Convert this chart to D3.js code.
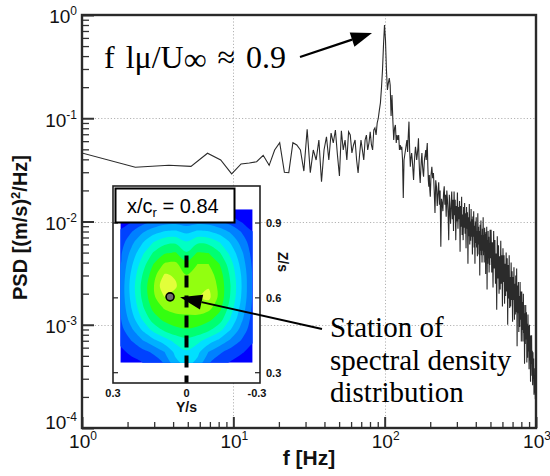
<!DOCTYPE html>
<html>
<head>
<meta charset="utf-8">
<script src="https://cdn.jsdelivr.net/npm/d3@7"></script>
<style>
  html, body { margin: 0; padding: 0; background: #fff; }
  svg { display: block; }
  .sans { font-family: "Liberation Sans", Arial, Helvetica, sans-serif; }
  .serif { font-family: "Liberation Serif", "Times New Roman", Times, serif; }
</style>
</head>
<body>
<script>
// ---- Power spectral density of the velocity signal ----
// Frequency bins [Hz] and PSD [(m/s)^2/Hz]
const freqLow = [0.75, 2.25, 3.75, 5.25, 6.75, 8.25, 9.75, 11.25, 12.75, 14.25, 15.75, 17.25, 18.75, 20.25,
  21.75, 23.25, 24.75, 26.25, 27.75, 29.25, 30.75, 32.25, 33.75, 35.25, 36.75, 38.25, 39.75, 41.25, 42.75,
  44.25, 45.75, 47.25, 48.75, 50.25, 51.75, 53.25, 54.75, 56.25, 57.75, 59.25, 60.75, 62.25, 63.75, 65.25,
  66.75, 68.25, 69.75, 71.25, 72.75, 74.25, 75.75, 77.25, 78.75, 80.25, 81.75, 83.25, 84.75, 86.25, 87.75,
  89.25, 90.75, 92.25, 93.75, 95.25, 96.75, 98.25, 99.75];
const psdLow = [0.0515, 0.0335, 0.035, 0.0342, 0.0458, 0.0394, 0.0289, 0.0361, 0.0369, 0.0379, 0.0438, 0.035,
  0.0493, 0.058, 0.03, 0.0297, 0.058, 0.0551, 0.0493, 0.0308, 0.0782, 0.0297, 0.0493, 0.0394, 0.0616, 0.0243,
  0.0493, 0.0662, 0.0394, 0.0719, 0.0576, 0.0769, 0.0441, 0.0276, 0.0757, 0.0493, 0.0616, 0.0394, 0.0741,
  0.0688, 0.0461, 0.0551, 0.0616, 0.0394, 0.0295, 0.0441, 0.0616, 0.0493, 0.0394, 0.0616, 0.0688, 0.0493,
  0.0576, 0.0741, 0.0551, 0.0493, 0.0769, 0.0805, 0.0688, 0.09, 0.1, 0.12, 0.141, 0.196, 0.293, 0.512, 0.8];

const freqMid = [101.25, 102.75, 104.25, 105.75, 107.25, 108.75, 110.25, 111.75, 113.25, 114.75, 116.25, 117.75,
  119.25, 120.75, 122.25, 123.75, 125.25, 126.75, 128.25, 129.75, 131.25, 132.75, 134.25, 135.75, 137.25,
  138.75, 140.25, 141.75, 143.25, 144.75, 146.25, 147.75, 149.25, 150.75, 152.25, 153.75, 155.25, 156.75,
  158.25, 159.75, 161.25, 162.75, 164.25, 165.75, 167.25, 168.75, 170.25, 171.75, 173.25, 174.75, 176.25,
  177.75, 179.25, 180.75, 182.25, 183.75, 185.25, 186.75, 188.25, 189.75, 191.25, 192.75, 194.25, 195.75,
  197.25, 198.75, 200.25];
const psdMid = [0.573, 0.293, 0.188, 0.219, 0.245, 0.21, 0.105, 0.168, 0.0962, 0.0616, 0.0805, 0.0861, 0.0576,
  0.0688, 0.0616, 0.0688, 0.0493, 0.0551, 0.0493, 0.053, 0.0394, 0.0169, 0.0394, 0.0441, 0.0493, 0.0551,
  0.0616, 0.0471, 0.0688, 0.0927, 0.0493, 0.0339, 0.0412, 0.0461, 0.0394, 0.0315, 0.0252, 0.0353, 0.0441,
  0.053, 0.0471, 0.0394, 0.0441, 0.0515, 0.064, 0.0394, 0.0282, 0.0236, 0.0315, 0.0394, 0.0461, 0.0353,
  0.0301, 0.0272, 0.0353, 0.0412, 0.0441, 0.0493, 0.0394, 0.0493, 0.0576, 0.0353, 0.0252, 0.0217, 0.0282,
  0.0202, 0.0174];

const freqHighA = [202.5, 205, 207.5, 210, 212.5, 215, 217.5, 220, 222.5, 225, 227.5, 230, 232.5, 235, 237.5,
  240, 242.5, 245, 247.5, 250, 252.5, 255, 257.5, 260, 262.5, 265, 267.5, 270, 272.5, 275, 277.5, 280, 282.5,
  285, 287.5, 290, 292.5, 295, 297.5, 300, 302.5, 305, 307.5, 310, 312.5, 315, 317.5, 320, 322.5, 325, 327.5,
  330, 332.5, 335, 337.5, 340, 342.5, 345, 347.5, 350, 352.5, 355, 357.5, 360, 362.5, 365, 367.5, 370, 372.5,
  375, 377.5, 380, 382.5, 385, 387.5, 390, 392.5, 395, 397.5, 400, 402.5, 405, 407.5, 410, 412.5, 415, 417.5,
  420, 422.5, 425, 427.5, 430, 432.5, 435, 437.5, 440, 442.5, 445, 447.5, 450, 452.5, 455, 457.5, 460, 462.5,
  465, 467.5, 470, 472.5, 475, 477.5, 480, 482.5, 485, 487.5, 490, 492.5, 495, 497.5, 500];
const psdHighA = [0.0282, 0.0339, 0.0263, 0.0295, 0.02, 0.0121, 0.0251, 0.0217, 0.0141, 0.0188, 0.024, 0.0145,
  0.02, 0.0057, 0.0166, 0.015, 0.0126, 0.0189, 0.0219, 0.0145, 0.0182, 0.0111, 0.02, 0.0162, 0.012, 0.0066,
  0.0182, 0.0129, 0.0095, 0.0151,
  0.0195, 0.0105, 0.0162, 0.0081, 0.0195, 0.0115, 0.0162, 0.0066, 0.0141, 0.01,
  0.0191, 0.0085, 0.0138, 0.0105, 0.0158, 0.0051, 0.0141, 0.0089, 0.0174, 0.0074,
  0.0117, 0.0066, 0.0138, 0.0087, 0.0151, 0.0076, 0.012, 0.0055, 0.0138, 0.0085,
  0.0123, 0.0039, 0.011, 0.0072, 0.0148, 0.006, 0.01, 0.0065, 0.0132, 0.0071,
  0.0105, 0.0048, 0.0112, 0.0071, 0.0126, 0.0056, 0.0091, 0.0039, 0.01, 0.0062,
  0.011, 0.0056, 0.0081, 0.0046, 0.012, 0.006, 0.0089, 0.0048, 0.0081, 0.003,
  0.0093, 0.0052, 0.0102, 0.0047, 0.0074, 0.004, 0.0085, 0.0052, 0.011, 0.0047,
  0.0074, 0.004, 0.0087, 0.0051, 0.0076, 0.0031, 0.0079, 0.0046, 0.0089, 0.0022,
  0.0066, 0.0039, 0.0081, 0.0044, 0.0071, 0.0032, 0.0062, 0.0038, 0.0083, 0.0044];

const freqHighB = [505, 510, 515, 520, 525, 530, 535, 540, 545, 550, 555, 560, 565, 570, 575, 580, 585, 590, 595,
  600, 605, 610, 615, 620, 625, 630, 635, 640, 645, 650, 655, 660, 665, 670, 675, 680, 685, 690, 695, 700,
  705, 710, 715, 720, 725, 730, 735, 740, 745, 750, 755, 760, 765, 770, 775, 780, 785, 790, 795, 800, 805,
  810, 815, 820, 825, 830, 835, 840, 845, 850, 855, 860, 865, 870, 875, 880, 885, 890, 895, 900, 905, 910,
  915, 920, 925, 930, 935, 940, 945, 950, 955, 960, 965, 970, 975, 980, 985, 990, 995, 1000];
const psdHighB = [0.0083, 0.0032, 0.0063, 0.0023, 0.0081, 0.0035, 0.0066, 0.0025, 0.0049, 0.0014,
  0.0072, 0.0028, 0.0059, 0.002, 0.0046, 0.0022, 0.0065, 0.0025, 0.0047, 0.0015,
  0.0055, 0.0026, 0.0047, 0.0016, 0.0039, 0.0019, 0.005, 0.0021, 0.0044, 0.001,
  0.0038, 0.0018, 0.0047, 0.00145, 0.0029, 0.0015, 0.004, 0.00174, 0.0033, 0.00107,
  0.0029, 0.00174, 0.0036, 0.00112, 0.0025, 0.00126, 0.003, 0.00132, 0.0035, 0.00062,
  0.0024, 0.00129, 0.0026, 0.00085, 0.0019, 0.00095, 0.0026, 0.00112, 0.0021, 0.00069,
  0.0021, 0.00089, 0.00166, 0.00069, 0.002, 0.00083, 0.00155, 0.00042, 0.00129, 0.00065,
  0.00155, 0.00072, 0.00132, 0.00043, 0.00102, 0.00048, 0.00126, 0.00055, 0.00098, 0.00037,
  0.001, 0.00045, 0.00078, 0.00028, 0.00079, 0.00042, 0.00079, 0.00032, 0.00056, 0.00026,
  0.00054, 0.0003, 0.00047, 0.00021, 0.00038, 0.00022, 0.00032, 0.00019, 0.00025, 0.00018];

// Axis decades
const xDecades = [0, 1, 2, 3];          // 10^0 .. 10^3 Hz
const yDecades = [0, -1, -2, -3, -4];   // 10^0 .. 10^-4

// ---- Inset: contour map of the spectral energy in the cross-flow plane ----
const gridY = [0.27, 0.225, 0.18, 0.135, 0.09, 0.045, 0, -0.045, -0.09, -0.135, -0.18, -0.225, -0.27];
const gridZ = [0.955, 0.911, 0.867, 0.823, 0.779, 0.735, 0.691, 0.647, 0.603, 0.56, 0.516, 0.472, 0.428, 0.384, 0.34];
const levelField = [
  [0, 0, 0, 0.2, 0.5, 0.6, 0.5, 0.6, 0.5, 0.2, 0, 0, 0],
  [0, 0.3, 0.9, 1.4, 1.8, 1.9, 1.7, 1.9, 1.8, 1.4, 0.9, 0.3, 0],
  [0.6, 1.4, 2.3, 3.0, 3.5, 3.6, 3.2, 3.6, 3.5, 3.0, 2.3, 1.4, 0.5],
  [1.0, 2.2, 3.4, 4.5, 5.2, 5.3, 4.6, 5.3, 5.2, 4.5, 3.4, 2.1, 0.9],
  [1.3, 2.8, 4.3, 5.6, 6.4, 6.6, 5.6, 6.6, 6.5, 5.6, 4.2, 2.7, 1.1],
  [1.5, 3.3, 5.0, 6.5, 7.6, 7.7, 6.8, 7.5, 7.5, 6.5, 4.9, 3.1, 1.3],
  [1.6, 3.7, 5.5, 7.1, 8.6, 8.4, 7.5, 7.8, 8.0, 7.0, 5.3, 3.4, 1.4],
  [1.7, 3.9, 5.8, 7.4, 9.3, 8.6, 7.8, 8.1, 8.4, 7.2, 5.5, 3.5, 1.4],
  [1.7, 3.8, 5.7, 7.3, 8.5, 8.2, 8.0, 8.4, 8.8, 7.2, 5.4, 3.4, 1.4],
  [1.6, 3.5, 5.3, 6.8, 7.6, 7.8, 7.8, 8.0, 7.8, 6.8, 5.0, 3.1, 1.3],
  [1.4, 3.0, 4.6, 6.0, 6.8, 7.2, 7.3, 7.2, 6.8, 6.0, 4.4, 2.7, 1.1],
  [1.1, 2.3, 3.6, 4.8, 5.7, 6.2, 6.4, 6.2, 5.7, 4.8, 3.5, 2.1, 0.9],
  [0.7, 1.5, 2.4, 3.2, 4.0, 4.8, 5.2, 4.8, 4.0, 3.2, 2.3, 1.4, 0.6],
  [0.3, 0.7, 1.2, 1.7, 2.5, 3.8, 4.4, 3.8, 2.5, 1.7, 1.1, 0.6, 0.2],
  [0, 0.2, 0.5, 0.9, 1.6, 3.2, 3.9, 3.2, 1.6, 0.9, 0.4, 0.1, 0]
];
const levelThresholds = [0.5, 1.5, 2.5, 3.5, 4.5, 5.5, 6.5, 7.5, 8.5];
const levelColors = ["#0000ff", "#0042ff", "#0080ff", "#00b0ff", "#00e0ff", "#00ffc4", "#00ff72", "#34ff10", "#92ff10", "#e2ff3a"];
const insetYTicks = [0.3, 0, -0.3];
const insetZTicks = [0.9, 0.6, 0.3];
const station = { Y: 0.067, Z: 0.604 };
const symmetryLine = { Y: 0, zTop: 0.77 };
const stationTag = { x: "x/c", sub: "r", value: " = 0.84" };

// ---------------------------------------------------------------
const W = 550, H = 476;
const svg = d3.select("body").append("svg").attr("width", W).attr("height", H);

const plot = { left: 82, right: 536, top: 15, bottom: 428 };
const x = d3.scaleLog().domain([1, 1000]).range([plot.left, plot.right]);
const y = d3.scaleLog().domain([1e-4, 1]).range([plot.bottom, plot.top]);

svg.append("defs").append("clipPath").attr("id", "plotClip")
  .append("rect").attr("x", plot.left).attr("y", plot.top)
  .attr("width", plot.right - plot.left).attr("height", plot.bottom - plot.top);

// dotted decade grid
const grid = svg.append("g").attr("stroke", "#b4b4b4").attr("stroke-width", 1)
  .attr("stroke-dasharray", "1.2,2");
xDecades.slice(1, -1).forEach(e => {
  const px = Math.round(x(Math.pow(10, e))) + 0.5;
  grid.append("line").attr("x1", px).attr("x2", px).attr("y1", plot.top).attr("y2", plot.bottom);
});
yDecades.slice(1, -1).forEach(e => {
  const py = Math.round(y(Math.pow(10, e))) + 0.5;
  grid.append("line").attr("x1", plot.left).attr("x2", plot.right).attr("y1", py).attr("y2", py);
});

// spectrum
const freq = freqLow.concat(freqMid, freqHighA, freqHighB);
const psd = psdLow.concat(psdMid, psdHighA, psdHighB);
const spectrum = freq.map((f, i) => [f, psd[i]]);
svg.append("path")
  .attr("clip-path", "url(#plotClip)")
  .attr("d", d3.line().x(d => x(d[0])).y(d => y(d[1]))(spectrum))
  .attr("fill", "none").attr("stroke", "#2b2b2b").attr("stroke-width", 1.1)
  .attr("stroke-linejoin", "miter");

// ticks (pointing into the plot)
const minorX = x.ticks().filter(t => Math.abs(Math.log10(t) - Math.round(Math.log10(t))) > 1e-6);
const minorY = y.ticks().filter(t => Math.abs(Math.log10(t) - Math.round(Math.log10(t))) > 1e-6);
const majorX = xDecades.map(e => Math.pow(10, e));
const majorY = yDecades.map(e => Math.pow(10, e));

function styleAxis(g) {
  g.select(".domain").remove();
  g.selectAll("line").attr("stroke", "#333").attr("stroke-width", 1.3);
}
svg.append("g").attr("transform", `translate(0,${plot.bottom})`)
  .call(d3.axisTop(x).tickValues(minorX).tickSize(6).tickFormat("")).call(styleAxis);
svg.append("g").attr("transform", `translate(0,${plot.bottom})`)
  .call(d3.axisTop(x).tickValues(majorX).tickSize(11).tickFormat("")).call(styleAxis)
  .selectAll("line").attr("stroke-width", 2);
svg.append("g").attr("transform", `translate(${plot.left},0)`)
  .call(d3.axisRight(y).tickValues(minorY).tickSize(7).tickFormat("")).call(styleAxis);
svg.append("g").attr("transform", `translate(${plot.left},0)`)
  .call(d3.axisRight(y).tickValues(majorY).tickSize(12).tickFormat("")).call(styleAxis)
  .selectAll("line").attr("stroke-width", 2);

// frame
svg.append("rect").attr("x", plot.left).attr("y", plot.top)
  .attr("width", plot.right - plot.left).attr("height", plot.bottom - plot.top)
  .attr("fill", "none").attr("stroke", "#2a2a2a").attr("stroke-width", 2.4);

// power-of-ten tick labels
function powerLabel(g, e, px, py, anchor) {
  const t = g.append("text").attr("class", "sans").attr("x", px).attr("y", py)
    .attr("text-anchor", anchor).attr("font-size", 19).attr("fill", "#111");
  t.append("tspan").text("10");
  t.append("tspan").attr("dy", -8).attr("font-size", 12).text(e < 0 ? "-" + (-e) : String(e));
}
const labels = svg.append("g");
yDecades.forEach(e => {
  const ty = y(Math.pow(10, e));
  powerLabel(labels, e, 77, Math.min(ty + 8.3, plot.bottom + 0.5), "end");
});
xDecades.forEach(e => {
  powerLabel(labels, e, x(Math.pow(10, e)) + 1, 448, "middle");
});

// axis titles
const yTitle = svg.append("text").attr("class", "sans")
  .attr("transform", `translate(27,${(plot.top + plot.bottom) / 2 + 6}) rotate(-90)`)
  .attr("text-anchor", "middle").attr("font-size", 20).attr("font-weight", "bold").attr("fill", "#111");
yTitle.append("tspan").text("PSD [(m/s)");
yTitle.append("tspan").attr("dy", -7).attr("font-size", 13).text("2");
yTitle.append("tspan").attr("dy", 7).text("/Hz]");

svg.append("text").attr("class", "sans").attr("x", 309).attr("y", 465)
  .attr("text-anchor", "middle").attr("font-size", 21).attr("font-weight", "bold").attr("fill", "#111")
  .text("f [Hz]");

// arrows
function arrow(x1, y1, x2, y2, headLen, headW, sw) {
  const a = Math.atan2(y2 - y1, x2 - x1);
  const bx = x2 - headLen * Math.cos(a), by = y2 - headLen * Math.sin(a);
  svg.append("line").attr("x1", x1).attr("y1", y1).attr("x2", bx).attr("y2", by)
    .attr("stroke", "#000").attr("stroke-width", sw);
  const nx = -Math.sin(a) * headW / 2, ny = Math.cos(a) * headW / 2;
  svg.append("path")
    .attr("d", `M${x2},${y2}L${bx + nx},${by + ny}L${bx - nx},${by - ny}Z`)
    .attr("fill", "#000");
}

// peak annotation
const peakText = svg.append("text").attr("class", "serif").attr("x", 104).attr("y", 68)
  .attr("font-size", 32).attr("fill", "#000").attr("word-spacing", 3);
peakText.append("tspan").text("f lμ/U");
peakText.append("tspan").attr("dy", 2).text("∞");
peakText.append("tspan").attr("dy", -2).text(" ≈ 0.9");
arrow(300, 57, 372, 33, 21, 15, 2.2);

// ---- inset ----
const ins = { left: 113, right: 260, top: 186, bottom: 383 };
const iy = d3.scaleLinear().domain([0.3, -0.3]).range([ins.left, ins.right]);
const iz = d3.scaleLinear().domain([0.3, 0.9]).range([372.7, 223]);
const inset = svg.append("g");
inset.append("rect").attr("x", ins.left).attr("y", ins.top)
  .attr("width", ins.right - ins.left).attr("height", ins.bottom - ins.top).attr("fill", "#fff");

const nx = gridY.length, ny = gridZ.length;
const cx = d3.scaleLinear().domain([0.5, nx - 0.5]).range([gridY[0], gridY[nx - 1]]);
const cy = d3.scaleLinear().domain([0.5, ny - 0.5]).range([gridZ[0], gridZ[ny - 1]]);
const mapX = c => iy(cx(c)), mapY = c => iz(cy(c));

svg.select("defs").append("clipPath").attr("id", "mapClip")
  .append("rect").attr("x", iy(gridY[0])).attr("y", iz(gridZ[0]))
  .attr("width", iy(gridY[nx - 1]) - iy(gridY[0])).attr("height", iz(gridZ[ny - 1]) - iz(gridZ[0]));

const map = inset.append("g").attr("clip-path", "url(#mapClip)");
map.append("rect").attr("x", iy(gridY[0])).attr("y", iz(gridZ[0]))
  .attr("width", iy(gridY[nx - 1]) - iy(gridY[0])).attr("height", iz(gridZ[ny - 1]) - iz(gridZ[0]))
  .attr("fill", levelColors[0]);
const contours = d3.contours().size([nx, ny]).thresholds(levelThresholds)(levelField.flat());
const ringLine = d3.line().curve(d3.curveCatmullRomClosed.alpha(0.5));
contours.forEach((c, i) => {
  const d = c.coordinates.map(poly => poly.map(ring =>
    ringLine(ring.slice(0, -1).map(p => [mapX(p[0]), mapY(p[1])]))).join("")).join("");
  map.append("path").attr("d", d).attr("fill", levelColors[i + 1]).attr("fill-rule", "evenodd");
});

// symmetry plane (dashed) and the measuring station
inset.append("line").attr("x1", iy(symmetryLine.Y)).attr("x2", iy(symmetryLine.Y))
  .attr("y1", iz(symmetryLine.zTop)).attr("y2", ins.bottom)
  .attr("stroke", "#000").attr("stroke-width", 4).attr("stroke-dasharray", "12,8");
inset.append("circle").attr("cx", iy(station.Y)).attr("cy", iz(station.Z)).attr("r", 4)
  .attr("fill", "#6e6e6e").attr("stroke", "#000").attr("stroke-width", 1.6);

// inset frame & ticks
inset.append("rect").attr("x", ins.left).attr("y", ins.top)
  .attr("width", ins.right - ins.left).attr("height", ins.bottom - ins.top)
  .attr("fill", "none").attr("stroke", "#222").attr("stroke-width", 1.6);
insetZTicks.forEach(z => {
  inset.append("line").attr("x1", ins.right - 5).attr("x2", ins.right).attr("y1", iz(z)).attr("y2", iz(z))
    .attr("stroke", "#222").attr("stroke-width", 1.2);
  inset.append("line").attr("x1", ins.left).attr("x2", ins.left + 5).attr("y1", iz(z)).attr("y2", iz(z))
    .attr("stroke", "#222").attr("stroke-width", 1.2);
  inset.append("text").attr("class", "sans").attr("x", ins.right + 6).attr("y", iz(z) + 4)
    .attr("font-size", 11).attr("font-weight", "bold").attr("fill", "#111").text(z.toFixed(1));
});
insetYTicks.forEach(v => {
  inset.append("text").attr("class", "sans").attr("x", iy(v) + (v < 0 ? -3 : 0)).attr("y", 397)
    .attr("text-anchor", "middle").attr("font-size", 11).attr("font-weight", "bold").attr("fill", "#111")
    .text(v === 0 ? "0" : v.toFixed(1));
});
inset.append("text").attr("class", "sans").attr("x", iy(0)).attr("y", 412)
  .attr("text-anchor", "middle").attr("font-size", 14).attr("font-weight", "bold").attr("fill", "#111")
  .text("Y/s");
inset.append("text").attr("class", "sans")
  .attr("transform", `translate(278,${iz(0.6) - 36}) rotate(90)`)
  .attr("text-anchor", "middle").attr("font-size", 14).attr("font-weight", "bold").attr("fill", "#111")
  .text("Z/s");

// station tag box
inset.append("rect").attr("x", 115.5).attr("y", 188.5).attr("width", 119).attr("height", 34)
  .attr("fill", "#fff").attr("stroke", "#000").attr("stroke-width", 2);
const tag = inset.append("text").attr("class", "sans").attr("x", 127).attr("y", 213)
  .attr("font-size", 20).attr("fill", "#000");
tag.append("tspan").text(stationTag.x);
tag.append("tspan").attr("dy", 4).attr("font-size", 13).text(stationTag.sub);
tag.append("tspan").attr("dy", -4).text(stationTag.value);

// station annotation
arrow(322, 329, iy(station.Y) + 10, iz(station.Z) + 0.5, 22, 15, 2);
const stText = svg.append("text").attr("class", "serif").attr("font-size", 29).attr("fill", "#000");
["Station of", "spectral density", "distribution"].forEach((s, i) => {
  stText.append("tspan").attr("x", 330).attr("y", 337 + i * 32.5).text(s);
});
</script>
</body>
</html>
